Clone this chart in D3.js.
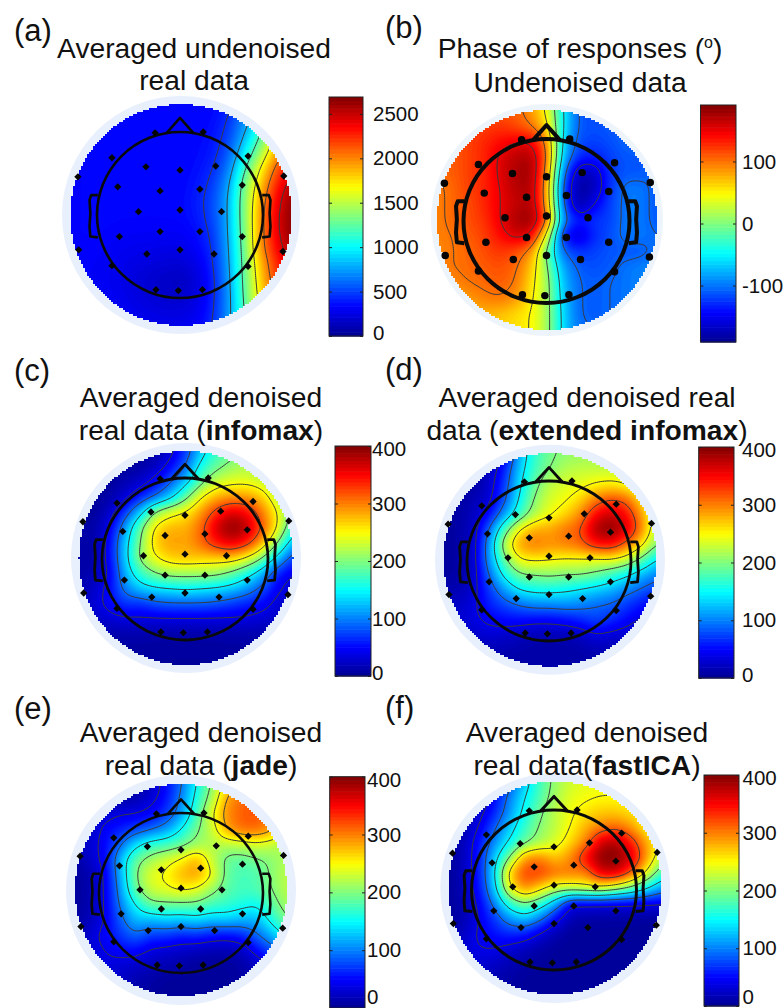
<!DOCTYPE html>
<html>
<head>
<meta charset="utf-8">
<script src="https://cdnjs.cloudflare.com/ajax/libs/d3/7.8.5/d3.min.js"></script>
<style>
  html, body { margin: 0; padding: 0; background: #fff; }
  text { font-family: "Liberation Sans", Arial, sans-serif; fill: #111; }
</style>
</head>
<body>
<svg id="fig" width="783" height="1008"></svg>
<script>
// values, 15 x 15 samples over each scalp disk (top row first)
const gridA = [
  [340,340,340,340,340,340,340,340,340,345,400,600,800,1000,1200],
  [340,340,340,340,340,340,340,340,340,350,450,700,1000,1400,1700],
  [330,340,340,340,340,340,340,340,345,370,500,800,1200,1700,2000],
  [330,340,340,340,340,340,340,340,350,390,560,950,1400,1900,2200],
  [330,340,340,340,340,340,340,340,360,430,650,1150,1650,2100,2400],
  [330,340,340,340,340,340,340,340,380,480,750,1300,1800,2250,2550],
  [330,340,340,340,340,340,340,345,400,520,800,1350,1900,2350,2650],
  [330,340,340,340,340,340,340,345,390,520,800,1350,1950,2400,2680],
  [330,340,340,330,320,320,320,320,360,480,800,1330,1950,2400,2680],
  [330,330,320,300,290,280,270,270,330,450,780,1300,1950,2350,2600],
  [330,320,310,290,260,240,220,210,270,430,760,1280,1850,2250,2500],
  [330,320,300,280,230,190,170,150,220,400,740,1260,1800,2200,2400],
  [330,320,310,290,250,210,180,170,240,400,720,1240,1750,2100,2300],
  [330,330,320,300,280,250,230,230,270,420,720,1200,1700,2000,2200],
  [330,330,330,320,300,290,280,280,320,450,720,1200,1700,2000,2200]
];
const gridB = [
  [110,110,110,110,110,110,85,45,-50,-110,-120,-110,-100,-100,-100],
  [105,110,115,120,125,115,100,60,-50,-110,-115,-110,-105,-100,-100],
  [105,110,120,130,140,150,150,95,-60,-115,-120,-115,-105,-100,-100],
  [100,110,120,130,155,170,175,105,-70,-130,-135,-120,-112,-112,-100],
  [100,110,120,130,155,175,180,90,-95,-175,-170,-125,-112,-112,-105],
  [95,105,120,130,150,170,175,80,-115,-185,-175,-125,-98,-98,-112],
  [95,105,115,130,150,165,175,85,-105,-185,-150,-120,-98,-98,-112],
  [95,105,115,125,150,175,185,110,-90,-135,-125,-120,-98,-98,-112],
  [95,100,110,120,140,160,150,40,-135,-165,-130,-115,-98,-98,-105],
  [90,100,105,115,125,115,90,-10,-105,-125,-120,-112,-112,-112,-100],
  [95,100,105,110,115,105,70,5,-80,-110,-115,-110,-100,-95,-90],
  [80,92,100,105,110,100,60,15,-70,-105,-110,-105,-100,-95,-90],
  [70,75,85,95,100,88,55,15,-65,-105,-110,-105,-100,-95,-90],
  [70,70,75,75,70,60,50,15,-60,-105,-110,-105,-100,-95,-90],
  [70,70,70,70,65,60,50,15,-60,-100,-105,-105,-100,-95,-90]
];
const gridC = [
  [5,5,5,5,5,10,30,70,130,170,190,200,200,200,200],
  [5,5,5,5,10,20,50,90,160,190,210,220,210,200,200],
  [5,5,5,15,25,50,85,130,190,230,240,240,230,200,190],
  [5,5,10,30,60,90,130,190,250,280,290,290,270,220,180],
  [5,5,25,70,130,210,240,255,290,335,365,350,300,250,190],
  [10,10,40,110,190,260,280,280,310,370,400,380,320,250,160],
  [10,10,50,130,200,270,290,285,310,345,365,340,280,200,120],
  [10,10,50,130,210,250,270,275,270,270,270,245,200,130,70],
  [10,15,40,120,170,200,215,215,215,210,190,160,120,60,40],
  [15,25,50,100,130,140,145,150,145,140,130,110,80,45,25],
  [20,30,50,70,65,80,85,85,85,80,70,60,50,30,20],
  [20,25,30,35,35,35,35,35,35,35,35,35,30,25,15],
  [10,12,12,12,12,10,10,10,10,10,12,12,12,12,12],
  [8,8,8,8,8,8,8,8,8,8,8,8,8,8,8],
  [5,5,5,5,5,5,5,5,5,5,5,5,5,5,5]
];
const gridD = [
  [5,5,5,10,30,120,170,195,205,210,210,210,210,210,210],
  [5,5,5,20,60,130,175,200,220,225,225,225,225,220,210],
  [5,5,10,25,70,140,190,225,235,240,250,255,245,225,210],
  [5,10,15,30,80,150,205,235,245,265,300,320,310,260,215],
  [5,10,20,50,110,170,220,245,265,295,350,375,350,290,225],
  [5,10,25,90,180,255,285,285,305,320,385,400,370,300,220],
  [5,10,25,110,225,290,305,295,300,310,345,350,310,260,200],
  [5,10,25,110,190,250,255,250,245,245,240,245,230,190,140],
  [8,10,25,90,155,195,200,205,200,200,190,170,150,120,100],
  [15,15,30,70,110,145,155,155,150,140,130,120,100,85,70],
  [25,25,35,60,75,90,100,100,105,100,90,85,70,55,40],
  [25,30,35,45,50,50,45,45,50,60,75,65,50,35,25],
  [15,20,25,30,25,20,15,15,15,20,35,30,25,20,15],
  [15,15,15,15,15,12,10,10,10,12,15,15,15,15,15],
  [10,10,10,10,10,10,10,10,10,10,10,10,10,10,10]
];
const gridE = [
  [5,5,5,5,10,20,50,90,150,200,260,290,300,300,300],
  [5,5,5,10,15,30,55,100,160,215,285,310,315,310,300],
  [10,15,30,40,40,50,70,110,175,240,295,315,320,300,280],
  [15,20,50,60,75,90,110,150,195,225,285,310,310,290,240],
  [20,30,50,90,140,170,175,190,210,220,220,225,235,225,215],
  [10,25,50,125,190,215,235,250,285,230,190,185,195,205,220],
  [5,15,40,120,200,240,250,280,290,250,190,175,180,205,225],
  [5,15,40,110,190,230,240,250,240,210,185,175,180,200,225],
  [5,15,40,100,150,190,190,190,190,175,170,160,150,185,215],
  [8,20,40,85,125,120,130,125,135,125,130,120,120,160,200],
  [10,30,50,70,90,70,70,60,65,55,50,60,90,120,160],
  [15,30,40,50,50,35,30,25,20,15,15,20,50,80,100],
  [25,30,35,30,25,20,15,10,5,5,5,10,20,40,40],
  [30,30,30,25,15,10,5,5,5,5,5,10,15,20,20],
  [20,20,20,15,10,5,5,5,5,5,5,5,10,10,10]
];
const gridF = [
  [5,5,10,30,80,130,175,210,230,240,240,240,240,240,240],
  [5,5,20,50,100,145,180,215,240,245,250,250,250,250,240],
  [5,10,30,60,110,155,195,225,245,260,270,270,260,245,230],
  [5,15,40,85,130,170,205,225,250,280,300,310,290,250,220],
  [5,20,55,105,150,190,215,235,265,300,370,385,340,285,240],
  [5,20,60,130,200,290,300,270,295,350,400,400,370,290,220],
  [5,20,60,140,270,330,330,310,305,300,365,370,320,245,170],
  [5,20,55,130,250,300,265,230,230,240,245,220,190,150,110],
  [5,15,45,100,170,200,170,120,40,40,40,40,40,40,40],
  [5,15,40,70,110,130,100,50,15,10,8,8,8,5,5],
  [10,25,45,55,65,60,35,15,5,5,5,5,5,5,5],
  [15,30,40,40,30,20,10,5,5,5,5,5,5,5,5],
  [25,30,30,25,15,10,5,5,5,5,5,5,5,5,5],
  [20,25,20,15,10,5,5,5,5,5,5,5,5,5,5],
  [15,15,15,10,5,5,5,5,5,5,5,5,5,5,5]
];

const electrodeX = [-0.30,0.28,-0.82,0.82,-0.41,0,0.43,-1.23,1.25,-0.75,-0.24,0.24,0.75,-0.50,0,0.50,-0.73,-0.24,0.24,0.75,-1.22,1.24,-0.40,0,0.41,-0.82,0.82,-0.29,-0.02,0.27];
const electrodeY = [-0.99,-1,-0.69,-0.71,-0.58,-0.54,-0.59,-0.46,-0.47,-0.34,-0.29,-0.31,-0.36,-0.04,-0.06,-0.04,0.26,0.2,0.2,0.26,0.42,0.44,0.47,0.42,0.47,0.61,0.62,0.9,0.91,0.9];

const ticksA = [0, 500, 1000, 1500, 2000, 2500];
const ticksB = [-100, 0, 100];
const ticksDenoised = [0, 100, 200, 300, 400];

const levelsA = [450, 800, 1200, 1650, 2050, 2450];
const levelsB = [-150, -105, -50, 0, 50, 100, 150];
const levelsC = [40, 90, 145, 200, 250, 320];
const levelsE = [40, 95, 150, 200, 245, 280];

const jetStops = [0, 0.125, 0.375, 0.625, 0.875, 1];
const jetColors = ["#00008f", "#0000ff", "#00ffff", "#ffff00", "#ff0000", "#800000"];
const jet = d3.scaleLinear().domain(jetStops).range(jetColors).interpolate(d3.interpolateRgb);

const panels = [
  {grid: gridA, ticks: ticksA, levels: levelsA, dom: [0, 2690], cx: 181, cy: 215, R: 110.7, halo: 119, haloCol: "#e8effd",
   hx: 180, hy: 215, rx: 83, ry: 83, ew: 2.6, round: false, bar: [329, 363, 97, 336], labelDx: 10,
   tag: "(a)", tagXY: [14, 41], title: [["Averaged undenoised"], ["real data"]], tc: 194, tb: [58, 90]},
  {grid: gridB, ticks: ticksB, levels: levelsB, dom: [-191, 191], cx: 547, cy: 220, R: 110, halo: 116, haloCol: "#eef4fc",
   hx: 546.5, hy: 221, rx: 83, ry: 82, ew: 4, round: true, bar: [700.5, 736, 105, 342], labelDx: 6,
   tag: "(b)", tagXY: [385, 38], title: [["Phase of responses (", "°", ")"], ["Undenoised data"]], tc: 580, tb: [58, 92]},
  {grid: gridC, ticks: ticksDenoised, levels: levelsC, dom: [0, 400], cx: 186, cy: 558, R: 107, halo: 115, haloCol: "#e8effd",
   hx: 185, hy: 559, rx: 83, ry: 81, ew: 2.8, round: false, bar: [335, 371, 446, 676], labelDx: 1,
   tag: "(c)", tagXY: [14, 381], title: [["Averaged denoised"], ["real data (", "infomax", ")"]], tc: 201, tb: [407, 440], bold: true},
  {grid: gridD, ticks: ticksDenoised, levels: levelsC, dom: [0, 400], cx: 550, cy: 559.8, R: 106.5, halo: 115, haloCol: "#e8effd",
   hx: 549, hy: 561, rx: 82, ry: 80, ew: 2.8, round: false, bar: [698.7, 734, 447, 678], labelDx: 8,
   tag: "(d)", tagXY: [385, 380], title: [["Averaged denoised real"], ["data (", "extended infomax", ")"]], tc: 587, tb: [407, 440], bold: true},
  {grid: gridE, ticks: ticksDenoised, levels: levelsE, dom: [0, 400], cx: 181, cy: 890, R: 106, halo: 115, haloCol: "#e8effd",
   hx: 181, hy: 893, rx: 82, ry: 80, ew: 2.6, round: false, bar: [329.7, 365, 776.7, 1008], labelDx: 2,
   tag: "(e)", tagXY: [14, 719], title: [["Averaged denoised"], ["real data (", "jade", ")"]], tc: 201, tb: [742, 775], bold: true},
  {grid: gridF, ticks: ticksDenoised, levels: levelsC, dom: [0, 400], cx: 555.3, cy: 888, R: 106.5, halo: 115, haloCol: "#e8effd",
   hx: 554, hy: 890, rx: 82.5, ry: 80, ew: 3, round: false, bar: [704, 739, 775, 1006], labelDx: 3.5,
   tag: "(f)", tagXY: [385, 718], title: [["Averaged denoised"], ["real data(", "fastICA", ")"]], tc: 587, tb: [742, 775], bold: true}
];

const svg = d3.select("#fig");
const upscale = 8;

panels.forEach(function(p, pi) {
  const g = svg.append("g");

  // smooth the sampled grid for display only
  const n = p.grid.length;
  const fine = new Float64Array(n * upscale * n * upscale);
  for (let r = 0; r < n * upscale; r++) {
    for (let c = 0; c < n * upscale; c++) {
      fine[r * n * upscale + c] = p.grid[Math.floor(r / upscale)][Math.floor(c / upscale)];
    }
  }
  d3.blur2({data: fine, width: n * upscale, height: n * upscale}, 3);

  const color = d3.scaleSequential(function(t) { return jet(t); }).domain(p.dom);
  const u = d3.scaleLinear().domain([upscale * 0.5, upscale * 14.5]).range([p.cx - p.R, p.cx + p.R]);
  const v = d3.scaleLinear().domain([upscale * 0.5, upscale * 14.5]).range([p.cy - p.R, p.cy + p.R]);
  const projection = d3.geoTransform({point: function(x, y) { this.stream.point(u(x), v(y)); }});
  const path = d3.geoPath(projection);

  g.append("circle").attr("cx", p.cx).attr("cy", p.cy).attr("r", p.halo).attr("fill", p.haloCol);

  // slightly stepped disk edge, rows snapped to whole pixels so no seams show
  const clipId = "scalp" + pi;
  const clip = g.append("clipPath").attr("id", clipId);
  d3.range(Math.round(p.cy - p.R), Math.round(p.cy + p.R), 2).forEach(function(rowY) {
    const dy = rowY + 1 - p.cy;
    const half = Math.round(Math.sqrt(Math.max(0, p.R * p.R - dy * dy)) / 2) * 2;
    clip.append("rect")
      .attr("x", Math.round(p.cx) - half).attr("width", 2 * half)
      .attr("y", rowY).attr("height", 2);
  });
  const map = g.append("g").attr("clip-path", "url(#" + clipId + ")");

  // filled bands
  const bands = d3.range(0, 128).map(function(i) { return p.dom[0] + (p.dom[1] - p.dom[0]) * i / 128; });
  const contours = d3.contours().size([n * upscale, n * upscale]);
  map.selectAll("path.band")
    .data(contours.thresholds(bands)(Array.from(fine)))
    .enter().append("path")
      .attr("class", "band")
      .attr("d", path)
      .attr("fill", function(d) { return color(d.value + (p.dom[1] - p.dom[0]) / 256); });

  // iso lines
  map.selectAll("path.iso")
    .data(contours.thresholds(p.levels)(Array.from(fine)))
    .enter().append("path")
      .attr("class", "iso")
      .attr("d", path)
      .attr("fill", "none")
      .attr("stroke", "#3a3a3a")
      .attr("stroke-width", 1);

  // head outline, nose and ears
  const hxs = d3.scaleLinear().domain([-1, 1]).range([p.hx - p.rx, p.hx + p.rx]);
  const hys = d3.scaleLinear().domain([-1, 1]).range([p.hy - p.ry, p.hy + p.ry]);
  const outline = d3.line().x(function(d) { return hxs(d[0]); }).y(function(d) { return hys(d[1]); });
  const noseShape = [[-0.16, -0.99], [0, -1.17], [0.16, -0.99]];
  const earShape = [[0.99, -0.24], [1.07, -0.24], [1.09, -0.18], [1.08, -0.02], [1.09, 0.14], [1.08, 0.26], [0.99, 0.27]];
  g.append("ellipse").attr("cx", p.hx).attr("cy", p.hy).attr("rx", p.rx).attr("ry", p.ry)
    .attr("fill", "none").attr("stroke", "#0a0a0a").attr("stroke-width", p.ew);
  [noseShape, earShape, earShape.map(function(d) { return [-d[0], d[1]]; })].forEach(function(s) {
    g.append("path").attr("d", outline(s))
      .attr("fill", "none").attr("stroke", "#0a0a0a").attr("stroke-width", p.ew).attr("stroke-linejoin", "round");
  });

  // electrodes
  const marker = d3.symbol().type(p.round ? d3.symbolCircle : d3.symbolDiamond2).size(p.round ? 44 : 34);
  g.selectAll("path.el")
    .data(d3.zip(electrodeX, electrodeY))
    .enter().append("path")
      .attr("class", "el")
      .attr("d", marker)
      .attr("transform", function(d) { return "translate(" + hxs(d[0]) + "," + hys(d[1]) + ")"; })
      .attr("fill", "#050505");

  // colour bar
  const bar = g.append("g");
  const y = d3.scaleLinear().domain(p.dom).range([p.bar[3], p.bar[2]]);
  const steps = d3.range(0, 64);
  const stepSize = (p.dom[1] - p.dom[0]) / 64;
  bar.selectAll("rect")
    .data(steps)
    .enter().append("rect")
      .attr("x", p.bar[0])
      .attr("width", p.bar[1] - p.bar[0])
      .attr("y", function(d) { return y(p.dom[0] + (d + 1) * stepSize); })
      .attr("height", function(d) { return y(p.dom[0] + d * stepSize) - y(p.dom[0] + (d + 1) * stepSize) + 0.6; })
      .attr("fill", function(d) { return color(p.dom[0] + (d + 0.5) * stepSize); });
  bar.append("rect")
    .attr("x", p.bar[0]).attr("y", p.bar[2])
    .attr("width", p.bar[1] - p.bar[0]).attr("height", p.bar[3] - p.bar[2])
    .attr("fill", "none").attr("stroke", "#222").attr("stroke-width", 1);
  const axis = d3.axisRight(y).tickValues(p.ticks).tickSize(-3).tickFormat(String);
  const ax = bar.append("g").attr("transform", "translate(" + p.bar[1] + ",0)").call(axis);
  ax.select(".domain").remove();
  ax.selectAll("line").attr("stroke", "#222");
  // left side ticks, same positions
  bar.append("g").attr("transform", "translate(" + p.bar[0] + ",0)")
    .call(d3.axisLeft(y).tickValues(p.ticks).tickSize(-3).tickFormat(""))
    .call(function(s) { s.select(".domain").remove(); s.selectAll("line").attr("stroke", "#222"); });
  // end labels sit just inside the bar ends, and stay on the page
  const top = p.bar[2] + 3, bottom = Math.min(p.bar[3] - 3, 996.5);
  ax.selectAll("text")
    .attr("font-size", 20.5).attr("fill", "#111").attr("x", p.labelDx)
    .attr("y", function(d) { return Math.max(top, Math.min(bottom, y(d))) - y(d); });

  // panel tag and title
  g.append("text").attr("x", p.tagXY[0]).attr("y", p.tagXY[1]).attr("font-size", 31).text(p.tag);
  p.title.forEach(function(parts, li) {
    const t = g.append("text").attr("x", p.tc).attr("y", p.tb[li]).attr("text-anchor", "middle").attr("font-size", 28.2);
    parts.forEach(function(s, si) {
      const span = t.append("tspan").text(s === "°" ? "o" : s);
      if (s === "°") span.attr("font-size", 16).attr("dy", -10);
      if (si === 2 && parts[1] === "°") span.attr("dy", 10);
      if (p.bold && parts.length === 3 && si === 1) span.attr("font-weight", "bold");
    });
  });
});
</script>
</body>
</html>
